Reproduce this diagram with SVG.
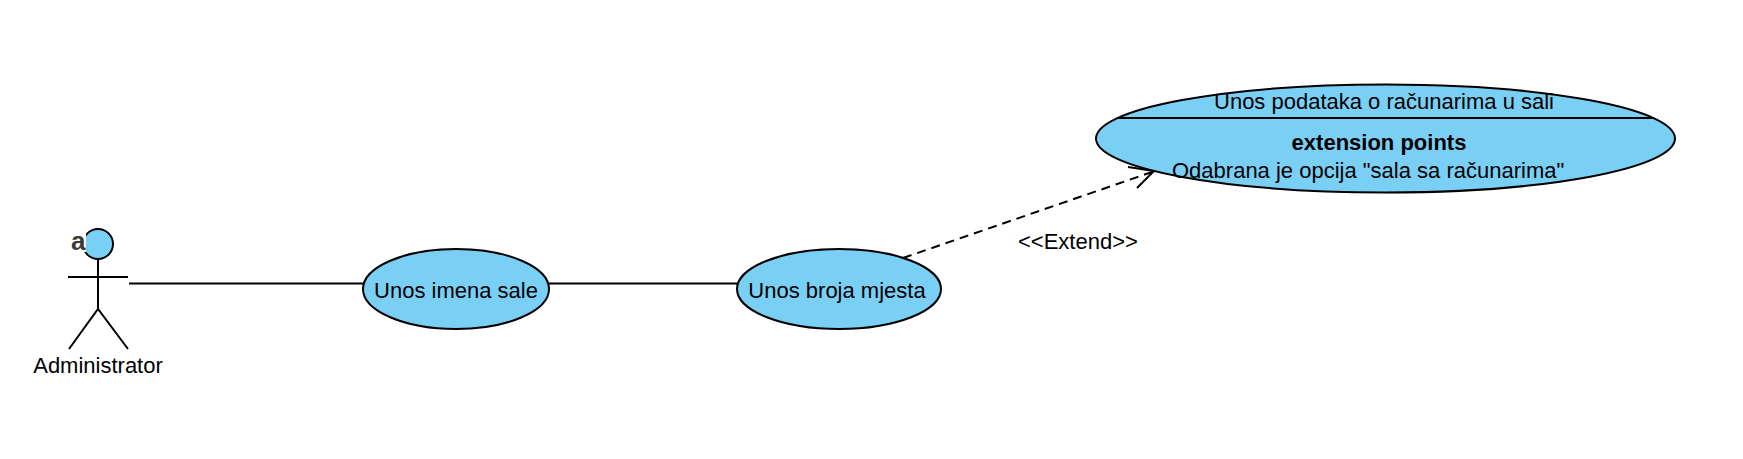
<svg xmlns="http://www.w3.org/2000/svg" width="1743" height="459" viewBox="0 0 1743 459">
<style>
.uc{fill:#7ACFF5;stroke:#000;stroke-width:2}
.t{font-family:"Liberation Sans",Arial,sans-serif;font-size:22px;fill:#000}
.ln{stroke:#000;stroke-width:2;fill:none}
</style>
<rect width="1743" height="459" fill="#fff"/>
<g id="connectors">
<line class="ln" x1="129" y1="283.5" x2="364" y2="283.5"/>
<line class="ln" x1="549" y1="283.5" x2="738" y2="283.5"/>
<line class="ln" x1="903" y1="258" x2="1152" y2="172" stroke-dasharray="9,6"/>
<polyline class="ln" points="1128,167 1154,171 1137,188"/>
<text class="t" x="1018" y="249">&lt;&lt;Extend&gt;&gt;</text>
</g>
<g id="actor">
<circle cx="98" cy="244" r="15" class="uc"/>
<line class="ln" x1="68" y1="277" x2="128" y2="277"/>
<line class="ln" x1="98" y1="259" x2="98" y2="309"/>
<polyline class="ln" points="69,349 98,309 128,349"/>
<rect x="70" y="231" width="16" height="21" fill="#fff"/>
<text x="71" y="249.5" style="font-family:'Liberation Sans',Arial,sans-serif;font-size:26px;font-weight:bold;fill:#3a3a3a">a</text>
<text class="t" x="98" y="373" text-anchor="middle">Administrator</text>
</g>
<g id="uc1">
<ellipse class="uc" cx="456" cy="289" rx="93" ry="40"/>
<text class="t" x="456" y="298" text-anchor="middle">Unos imena sale</text>
</g>
<g id="uc2">
<ellipse class="uc" cx="839" cy="289" rx="102" ry="40"/>
<text class="t" x="837" y="298" text-anchor="middle">Unos broja mjesta</text>
</g>
<g id="uc3">
<ellipse class="uc" cx="1385.5" cy="138.5" rx="289.5" ry="54"/>
<line class="ln" x1="1117" y1="118" x2="1654" y2="118"/>
<text class="t" x="1384" y="109" text-anchor="middle">Unos podataka o računarima u sali</text>
<text class="t" x="1379" y="150" text-anchor="middle" font-weight="bold">extension points</text>
<text class="t" x="1172" y="178">Odabrana je opcija "sala sa računarima"</text>
</g>
</svg>
